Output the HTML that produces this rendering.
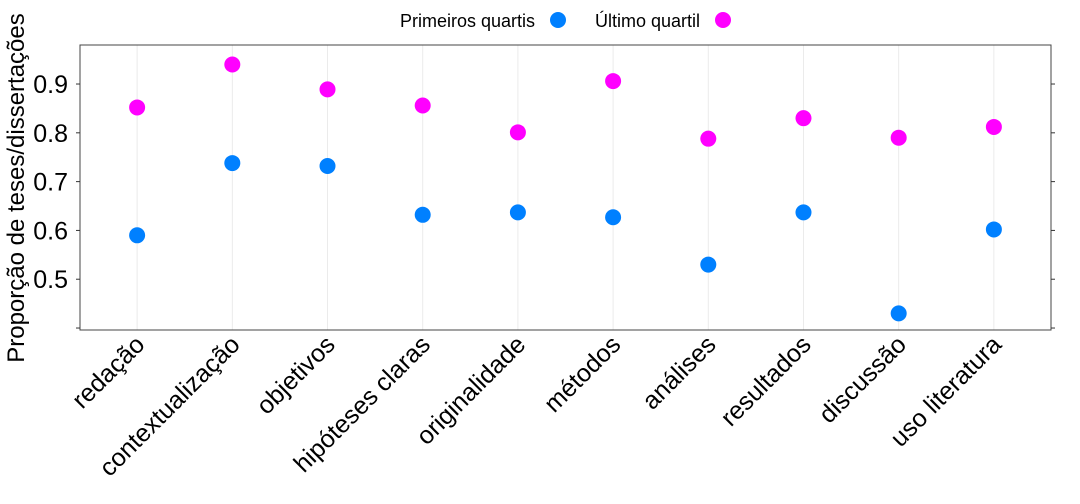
<!DOCTYPE html>
<html><head><meta charset="utf-8"><style>
body{margin:0;background:#fff;}
svg{display:block;font-family:"Liberation Sans",sans-serif;}
</style></head><body>
<svg id="chart" width="1080" height="504" viewBox="0 0 1080 504">
<g id="legend">
  <text x="400" y="27" font-size="18">Primeiros quartis</text>
  <circle cx="558" cy="20" r="8" fill="#0080ff"/>
  <text x="595" y="27" font-size="18">Último quartil</text>
  <circle cx="723" cy="20" r="8" fill="#ff00ff"/>
</g>
<text transform="translate(24,188) rotate(-90)" text-anchor="middle" font-size="24">Proporção de teses/dissertações</text>
<g id="plot"></g>
</svg>
<script>
const categories=["redação","contextualização","objetivos","hipóteses claras","originalidade","métodos","análises","resultados","discussão","uso literatura"];
const firstQuartis=[0.59,0.738,0.732,0.632,0.637,0.627,0.53,0.637,0.43,0.602];
const lastQuartil=[0.852,0.94,0.889,0.856,0.801,0.906,0.788,0.83,0.79,0.812];
const yTicks=[0.4,0.5,0.6,0.7,0.8,0.9];
const yTickLabels=["","0.5","0.6","0.7","0.8","0.9"];

const L=80,R=1051,T=45,B=330;
const yMin=0.398,yMax=0.982;
const x=i=>L+(i+1-0.4)/10.2*(R-L);
const y=v=>B-1-(v-yMin)/(yMax-yMin)*(B-T);
const NS="http://www.w3.org/2000/svg";
const g=document.getElementById('plot');
function mk(tag,attrs){const e=document.createElementNS(NS,tag);for(const k in attrs)e.setAttribute(k,attrs[k]);g.appendChild(e);return e;}

categories.forEach((c,i)=>{
  const gl=mk('line',{x1:x(i),x2:x(i),y1:T,y2:B,stroke:'#ebebeb','stroke-width':1});
  
  
});
const frame=mk('rect',{x:L,y:T,width:R-L,height:B-T,fill:'none',stroke:'#444','stroke-width':1});



yTicks.forEach((t,i)=>{
  const tk=mk('line',{x1:L-4,x2:L,y1:y(t),y2:y(t),stroke:'#333'});
  
  
  const tr=mk('line',{x1:R,x2:R+4,y1:y(t),y2:y(t),stroke:'#333'});
  
  
  if(yTickLabels[i]){
    const tx=mk('text',{x:L-12,y:y(t)+9,'text-anchor':'end','font-size':25});
    tx.textContent=yTickLabels[i];
    
    
  }
});

categories.forEach((c,i)=>{
  const tx=mk('text',{'text-anchor':'end','font-size':25,transform:`translate(${x(i)+9},${B+16}) rotate(-45)`});
  tx.textContent=c;
  
  
});

firstQuartis.forEach((v,i)=>{
  const p=mk('circle',{cx:x(i),cy:y(v),r:8,fill:'#0080ff'});
  
  
});
lastQuartil.forEach((v,i)=>{
  const p=mk('circle',{cx:x(i),cy:y(v),r:8,fill:'#ff00ff'});
  
  
});
</script>
</body></html>
